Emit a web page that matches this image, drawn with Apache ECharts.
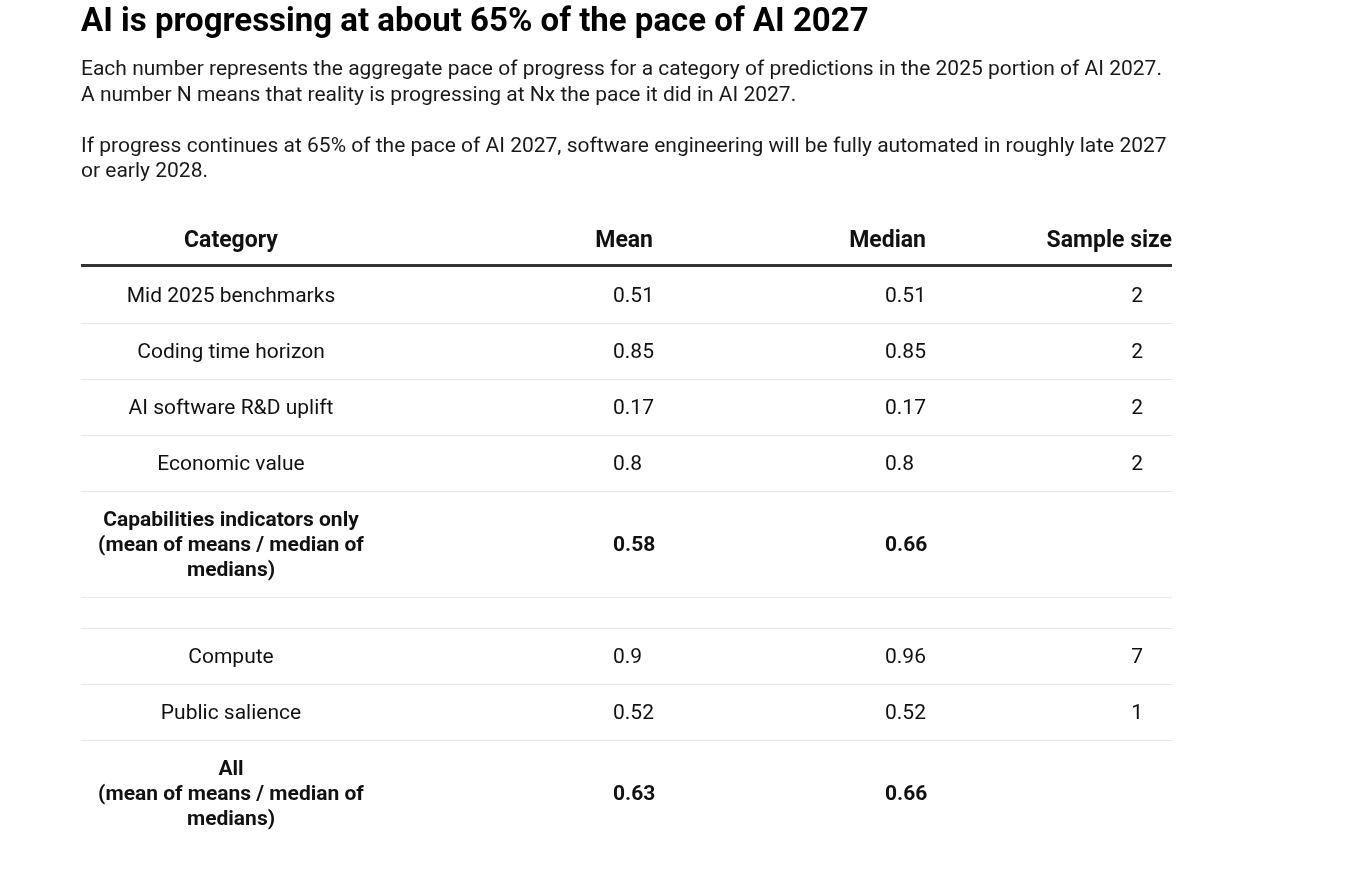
<!DOCTYPE html>
<html>
<head>
<meta charset="utf-8">
<script src="https://cdn.jsdelivr.net/npm/echarts@6/dist/echarts.min.js"></script>
<style>
  html, body { margin: 0; padding: 0; background: #fff; }
  #main { width: 1367px; height: 869px; }
</style>
</head>
<body>
<div id="main"></div>
<script>
// table content
var headers = ["Category", "Mean", "Median", "Sample size"];
var categories = [
  "Mid 2025 benchmarks",
  "Coding time horizon",
  "AI software R&D uplift",
  "Economic value",
  "Capabilities indicators only\n(mean of means / median of\nmedians)",
  "",
  "Compute",
  "Public salience",
  "All\n(mean of means / median of\nmedians)"
];
var means = [0.51, 0.85, 0.17, 0.8, 0.58, null, 0.9, 0.52, 0.63];
var medians = [0.51, 0.85, 0.17, 0.8, 0.66, null, 0.96, 0.52, 0.66];
var sampleSizes = [2, 2, 2, 2, null, null, 7, 1, null];
var summaryRows = [4, 8];

// layout (axis units = pixels inside the grid)
var tableWidth = 1091;
var headerHeight = 56;
var headerAnchors = [
  { x: 150, align: "center" },
  { x: 572, align: "right" },
  { x: 845, align: "right" },
  { x: 1091, align: "right" }
];
var cellAnchors = [
  { x: 150, align: "center" },
  { x: 532, align: "left" },
  { x: 804, align: "left" },
  { x: 1062, align: "right" }
];
var FONT = "Roboto, 'Noto Sans', sans-serif";

// row extents from number of text lines
var rows = [];
var y = headerHeight;
for (var i = 0; i < categories.length; i++) {
  var lines = categories[i] ? categories[i].split("\n").length : 0;
  var h = 31 + 25 * lines;
  rows.push([i, y, y + h]);
  y += h;
}
var tableHeight = y;

function fmt(v) {
  return v === null || v === undefined ? "" : String(v);
}

function renderHeader(params, api) {
  var p0 = api.coord([0, api.value(1)]);
  var p1 = api.coord([0, api.value(2)]);
  var left = api.coord([0, 0])[0];
  var right = api.coord([tableWidth, 0])[0];
  var children = headers.map(function (h, c) {
    return {
      type: "text",
      style: {
        text: h,
        x: api.coord([headerAnchors[c].x, 0])[0],
        y: (p0[1] + p1[1]) / 2 + 2,
        align: headerAnchors[c].align,
        verticalAlign: "middle",
        fontFamily: FONT,
        fontSize: 23,
        fontWeight: "bold",
        fill: "#111"
      }
    };
  });
  children.push({
    type: "rect",
    shape: { x: left, y: p1[1] - 3, width: right - left, height: 3 },
    style: { fill: "#333" }
  });
  return { type: "group", children: children };
}

function renderRow(params, api) {
  var idx = api.value(0);
  var top = api.coord([0, api.value(1)])[1];
  var bottom = api.coord([0, api.value(2)])[1];
  var midY = (top + bottom) / 2 + 1.5;
  var left = api.coord([0, 0])[0];
  var right = api.coord([tableWidth, 0])[0];
  var bold = summaryRows.indexOf(idx) !== -1;
  var cells = [categories[idx], fmt(means[idx]), fmt(medians[idx]), fmt(sampleSizes[idx])];
  var children = cells.map(function (t, c) {
    return {
      type: "text",
      style: {
        text: t,
        x: api.coord([cellAnchors[c].x, 0])[0],
        y: midY,
        align: cellAnchors[c].align,
        verticalAlign: "middle",
        fontFamily: FONT,
        fontSize: 21,
        lineHeight: 25,
        fontWeight: bold ? "bold" : "normal",
        fill: "#111"
      }
    };
  });
  if (idx < categories.length - 1) {
    children.push({
      type: "line",
      shape: { x1: left, y1: Math.round(bottom) + 0.5, x2: right, y2: Math.round(bottom) + 0.5 },
      style: { stroke: "#e9e9e9", lineWidth: 1 }
    });
  }
  return { type: "group", children: children };
}

var chart = echarts.init(document.getElementById("main"));
var option = {
  backgroundColor: "#fff",
  animation: false,
  title: {
    left: 81,
    top: 5,
    padding: 0,
    text: "AI is progressing at about 65% of the pace of AI 2027",
    textStyle: {
      fontFamily: FONT,
      fontSize: 33,
      fontWeight: "bold",
      color: "#000",
      lineHeight: 36
    },
    itemGap: 16,
    subtext:
      "Each number represents the aggregate pace of progress for a category of predictions in the 2025 portion of AI 2027.\n" +
      "A number N means that reality is progressing at Nx the pace it did in AI 2027.\n" +
      "\n" +
      "If progress continues at 65% of the pace of AI 2027, software engineering will be fully automated in roughly late 2027\n" +
      "or early 2028.",
    subtextStyle: {
      fontFamily: FONT,
      fontSize: 21,
      lineHeight: 25.5,
      color: "#1a1a1a"
    }
  },
  grid: {
    left: 81,
    top: 211,
    width: tableWidth,
    height: tableHeight
  },
  xAxis: {
    type: "value",
    min: 0,
    max: tableWidth,
    show: false
  },
  yAxis: {
    type: "value",
    min: 0,
    max: tableHeight,
    inverse: true,
    show: false
  },
  series: [
    {
      type: "custom",
      name: "header",
      renderItem: renderHeader,
      encode: { x: -1, y: [1, 2] },
      data: [[-1, 0, headerHeight]],
      silent: true
    },
    {
      type: "custom",
      name: "rows",
      renderItem: renderRow,
      encode: { x: -1, y: [1, 2] },
      data: rows,
      silent: true
    }
  ]
};
chart.setOption(option);
</script>
</body>
</html>
